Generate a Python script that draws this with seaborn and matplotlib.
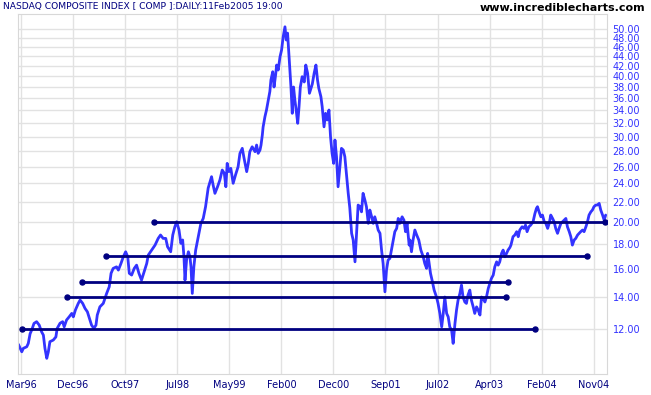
import matplotlib
matplotlib.use("Agg")
import matplotlib.pyplot as plt
import seaborn as sns
import pandas as pd
from matplotlib.ticker import FixedLocator, NullLocator, FormatStrFormatter

# trading day (from the Mar96 tick) and index close / 100
day = [
    -10, 3, 9, 22, 28, 35, 41, 50, 60, 70, 79, 86, 92, 99, 105, 111, 124, 134, 139, 150,
    160, 166, 175, 185, 195, 201, 209, 220, 227, 237, 246, 255, 265, 271, 280, 288, 293, 303, 316, 329,
    339, 346, 354, 367, 374, 384, 393, 402, 410, 416, 425, 435, 444, 453, 463, 473, 483, 489, 502, 515,
    527, 536, 546, 556, 563, 575, 583, 591, 598, 607, 614, 621, 626, 630, 636, 643, 649, 653, 658, 664,
    671, 681, 691, 700, 709, 719, 726, 732, 738, 745, 755, 764, 773, 781, 787, 792, 799, 806, 815, 824,
    834, 841, 850, 857, 867, 873, 879, 888, 899, 905, 911, 918, 922, 927, 930, 937, 943, 950, 956, 960,
    967, 972, 978, 982, 988, 995, 1001, 1007, 1014, 1019, 1024, 1029, 1033, 1037, 1042, 1047, 1052, 1057, 1063, 1068,
    1073, 1080, 1088, 1094, 1101, 1108, 1119, 1126, 1133, 1139, 1144, 1152, 1157, 1164, 1170, 1176, 1183, 1189, 1195, 1201,
    1206, 1212, 1218, 1225, 1231, 1238, 1244, 1251, 1257, 1263, 1270, 1276, 1283, 1289, 1295, 1302, 1308, 1314, 1321, 1327,
    1334, 1340, 1347, 1353, 1359, 1366, 1372, 1379, 1385, 1391, 1395, 1398, 1404, 1410, 1417, 1423, 1430, 1436, 1443, 1449,
    1455, 1464, 1471, 1477, 1483, 1491, 1494, 1500, 1506, 1513, 1520, 1528, 1536, 1545, 1551, 1558, 1562, 1567, 1573, 1579,
    1587, 1596, 1602, 1609, 1616, 1622, 1628, 1635, 1641, 1647, 1654, 1660, 1667, 1673, 1679, 1686, 1692, 1698, 1705, 1711,
    1717, 1724, 1730, 1737, 1743, 1750, 1756, 1763, 1769, 1775, 1782, 1788, 1795, 1801, 1807, 1814, 1820, 1827, 1833, 1839,
    1846, 1852, 1859, 1865, 1871, 1878, 1882, 1890, 1897, 1904, 1910, 1916, 1925, 1932, 1938, 1944, 1951, 1958, 1967, 1974,
    1980, 1984, 1990, 1997, 2003, 2010, 2016, 2023, 2029, 2035, 2042, 2048, 2054, 2061, 2067, 2074, 2080, 2086, 2093, 2099,
    2106, 2112, 2118, 2125, 2131, 2138, 2144, 2150, 2157, 2163, 2170, 2176, 2182, 2189, 2195, 2201, 2208, 2214, 2221, 2227,
    2234, 2240, 2246,
]
close = [
    11.16, 10.77, 10.95, 11.03, 11.21, 11.74, 11.94, 12.33, 12.43, 12.23, 11.85, 11.66, 10.95, 10.44, 10.77, 11.30, 11.39, 11.56, 12.04, 12.34,
    12.43, 12.13, 12.53, 12.72, 12.93, 12.72, 13.14, 13.56, 13.78, 13.56, 13.24, 13.03, 12.53, 12.23, 12.04, 12.23, 12.83, 13.34, 13.56, 14.22,
    14.68, 15.65, 16.02, 16.14, 15.89, 16.40, 16.93, 17.34, 16.93, 15.65, 15.52, 16.02, 16.27, 15.65, 15.15, 15.77, 16.40, 17.07, 17.48, 17.90,
    18.48, 18.78, 18.48, 18.48, 17.76, 17.34, 18.78, 19.53, 20.00, 19.23, 18.05, 18.34, 16.93, 15.15, 16.67, 17.34, 16.93, 16.14, 14.22, 16.14,
    17.48, 18.63, 19.85, 20.32, 21.49, 23.48, 24.20, 24.79, 23.82, 22.90, 23.63, 24.40, 25.59, 25.19, 23.63, 26.41, 25.39, 25.79, 24.02, 24.99,
    26.00, 27.70, 28.37, 27.04, 25.39, 26.41, 27.92, 28.58, 27.92, 28.82, 27.70, 28.14, 28.82, 30.23, 31.40, 32.97, 34.05, 35.71, 37.20, 39.28,
    40.86, 37.99, 40.22, 42.18, 41.19, 43.87, 45.31, 48.20, 50.60, 47.52, 49.10, 44.60, 41.19, 37.99, 33.52, 37.99, 35.71, 34.05, 31.96, 34.59,
    37.99, 39.90, 38.91, 42.18, 40.55, 36.87, 38.54, 40.55, 42.18, 39.28, 37.76, 36.29, 34.59, 31.43, 33.52, 32.47, 34.05, 29.99, 27.70, 26.41,
    29.52, 27.26, 23.63, 25.99, 28.37, 28.14, 27.26, 24.78, 22.90, 21.38, 18.93, 18.34, 16.53, 18.93, 21.66, 21.49, 20.97, 22.90, 22.18, 21.49,
    19.85, 21.15, 20.48, 19.85, 20.48, 19.85, 19.23, 18.93, 17.48, 16.40, 15.15, 14.33, 15.89, 16.67, 16.80, 17.48, 18.34, 19.08, 19.38, 20.32,
    19.85, 20.48, 20.16, 19.08, 19.85, 17.90, 18.34, 17.34, 18.34, 19.23, 18.78, 18.34, 17.48, 16.93, 16.40, 16.02, 17.21, 16.53, 15.65, 15.15,
    14.45, 13.98, 13.56, 12.93, 12.13, 12.93, 13.98, 12.93, 12.72, 12.13, 11.94, 11.21, 12.33, 13.14, 13.78, 14.22, 14.80, 13.98, 13.65, 13.56,
    14.11, 14.45, 13.78, 13.34, 12.93, 13.34, 13.14, 12.83, 13.98, 13.88, 13.65, 13.98, 14.57, 14.92, 15.27, 15.52, 16.14, 16.53, 16.27, 16.53,
    17.21, 17.48, 16.93, 17.21, 17.48, 17.70, 17.90, 18.63, 18.78, 19.08, 18.63, 19.23, 19.53, 19.38, 19.69, 19.08, 19.53, 19.69, 20.00, 20.79,
    21.32, 21.49, 20.97, 20.48, 20.65, 20.00, 19.85, 19.38, 19.85, 20.65, 20.32, 20.00, 19.38, 18.93, 19.38, 19.85, 20.00, 20.16, 20.32, 19.53,
    19.08, 18.63, 17.90, 18.34, 18.48, 18.78, 18.93, 19.08, 19.23, 19.08, 19.53, 20.00, 20.65, 20.97, 21.15, 21.49, 21.66, 21.66, 21.83, 21.15,
    20.65, 20.16, 20.65,
]

# support / resistance lines
level_value = [20, 17, 15, 14, 12]
level_start = [511, 326, 234, 177, 4]
level_end = [2243, 2173, 1870, 1862, 1974]

tick_days = [0, 200, 400, 600, 800, 1000, 1200, 1400, 1600, 1800, 2000, 2200]
tick_labels = ["Mar96", "Dec96", "Oct97", "Jul98", "May99", "Feb00",
               "Dec00", "Sep01", "Jul02", "Apr03", "Feb04", "Nov04"]
y_ticks = [12, 14, 16, 18, 20, 22, 24, 26, 28, 30, 32, 34, 36, 38, 40, 42, 44, 46, 48, 50]

sns.set_style("white")
plt.rcParams["font.family"] = ["DejaVu Sans"]

fig = plt.figure(figsize=(6.51, 3.95), dpi=100)
ax = fig.add_axes([18 / 651, 21 / 395, 589 / 651, 360 / 395])

df = pd.DataFrame({"day": day, "close": close})
sns.lineplot(data=df, x="day", y="close", color="#3333ff", lw=2, estimator=None, ax=ax, zorder=2)

for v, s, e in zip(level_value, level_start, level_end):
    ax.plot([s, e], [v, v], color="#000080", lw=2, marker="o", ms=3.6, zorder=3)

ax.set_yscale("log")
ax.set_ylim(9.69, 53.78)
ax.set_xlim(-11.5, 2251)
ax.yaxis.set_major_locator(FixedLocator(y_ticks))
ax.yaxis.set_minor_locator(NullLocator())
ax.yaxis.set_major_formatter(FormatStrFormatter("%.2f"))
ax.yaxis.tick_right()
ax.set_xticks(tick_days)
ax.set_xticklabels(tick_labels)
ax.tick_params(axis="y", length=0, pad=4, labelsize=7, labelcolor="#3333ff")
ax.tick_params(axis="x", length=0, pad=4, labelsize=7, labelcolor="#000080")
ax.grid(True, color="#e2e2e2", lw=1)
for sp in ax.spines.values():
    sp.set_color("#d8d8d8")
ax.set_xlabel("")
ax.set_ylabel("")

fig.text(3 / 651, 1 - 7 / 395, "NASDAQ COMPOSITE INDEX [ COMP ]:DAILY:11Feb2005 19:00",
         color="#000080", fontsize=6.6, va="center")
fig.text(645 / 651, 1 - 8 / 395, "www.incrediblecharts.com", color="black",
         fontsize=8, fontweight="bold", ha="right", va="center")

fig.savefig("out.png", dpi=100)
